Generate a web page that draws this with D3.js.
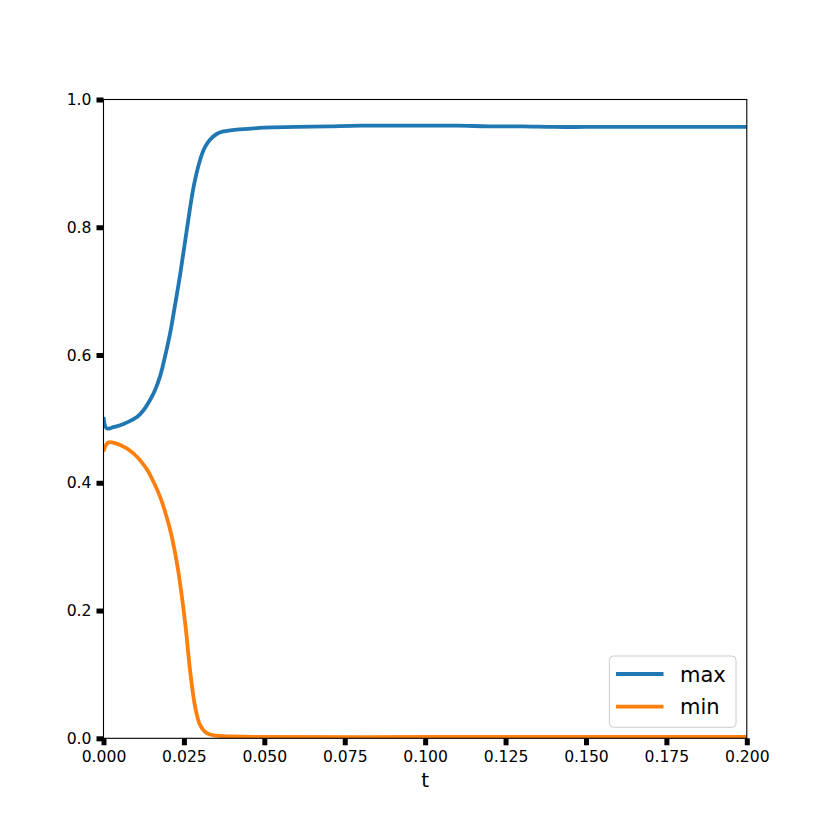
<!DOCTYPE html>
<html>
<head>
<meta charset="utf-8">
<script src="https://cdn.jsdelivr.net/npm/d3@7"></script>
<style>
  html, body { margin: 0; padding: 0; background: #fff; }
  svg { display: block; }
  text { font-family: "DejaVu Sans", sans-serif; fill: #000; }
</style>
</head>
<body>
<svg id="chart" width="830" height="830"></svg>
<script>
// ---- data ----
const maxT = [0, 0.001, 0.003, 0.0052, 0.0075, 0.0104, 0.0125, 0.0145, 0.016, 0.0176, 0.019, 0.0207, 0.0222, 0.0238, 0.0259, 0.028, 0.030, 0.0315, 0.0331, 0.0352, 0.0373, 0.0414, 0.045, 0.05, 0.06, 0.07, 0.08, 0.09, 0.10, 0.11, 0.12, 0.13, 0.14, 0.15, 0.16, 0.17, 0.18, 0.19, 0.2];
const maxV = [0.503, 0.485, 0.487, 0.490, 0.495, 0.503, 0.514, 0.530, 0.545, 0.567, 0.595, 0.634, 0.677, 0.725, 0.796, 0.863, 0.905, 0.925, 0.937, 0.946, 0.950, 0.953, 0.954, 0.956, 0.957, 0.958, 0.959, 0.959, 0.959, 0.959, 0.958, 0.958, 0.957, 0.957, 0.957, 0.957, 0.957, 0.957, 0.957];
const minT = [0, 0.0015, 0.0052, 0.0093, 0.0135, 0.0155, 0.0176, 0.019, 0.0207, 0.022, 0.0233, 0.0254, 0.0269, 0.0285, 0.030, 0.0321, 0.0352, 0.04, 0.05, 0.1, 0.15, 0.2];
const minV = [0.449, 0.463, 0.459, 0.446, 0.421, 0.402, 0.378, 0.357, 0.327, 0.297, 0.260, 0.180, 0.107, 0.049, 0.021, 0.008, 0.004, 0.003, 0.002, 0.002, 0.002, 0.002];
const seriesNames = ["max", "min"];
const seriesColors = ["#1f77b4", "#ff7f0e"];
const xTicks = [0, 0.025, 0.05, 0.075, 0.1, 0.125, 0.15, 0.175, 0.2];
const yTicks = [0, 0.2, 0.4, 0.6, 0.8, 1.0];
const xLabel = "t";

// ---- layout ----
const mLeft = 103.5, mRight = 746.8, mTop = 99.5, mBottom = 738.3;
const svg = d3.select("#chart");

const x = d3.scaleLinear().domain([0, 0.2]).range([mLeft, mRight]);
const y = d3.scaleLinear().domain([0, 1]).range([mBottom, mTop]);

svg.append("defs").append("clipPath").attr("id", "clip")
  .append("rect").attr("x", mLeft).attr("y", mTop)
  .attr("width", mRight - mLeft).attr("height", mBottom - mTop);

const series = [
  { name: seriesNames[0], color: seriesColors[0], pts: maxT.map((t, i) => [t, maxV[i]]) },
  { name: seriesNames[1], color: seriesColors[1], pts: minT.map((t, i) => [t, minV[i]]) }
];

const line = d3.line().x(d => x(d[0])).y(d => y(d[1])).curve(d3.curveCatmullRom.alpha(0.5));

svg.append("g").attr("clip-path", "url(#clip)")
  .selectAll("path").data(series).join("path")
  .attr("d", d => line(d.pts))
  .attr("fill", "none")
  .attr("stroke", d => d.color)
  .attr("stroke-width", 3.8)
  .attr("stroke-linejoin", "round")
  .attr("stroke-linecap", "butt");

// spines
svg.append("rect").attr("x", mLeft).attr("y", mTop)
  .attr("width", mRight - mLeft).attr("height", mBottom - mTop)
  .attr("fill", "none").attr("stroke", "#000").attr("stroke-width", 1.1);

// axes
const xAxis = d3.axisBottom(x).tickValues(xTicks).tickFormat(d3.format(".3f"))
  .tickSizeInner(7).tickSizeOuter(0).tickPadding(6);
const gx = svg.append("g").attr("transform", `translate(0,${mBottom})`).call(xAxis);
gx.select(".domain").remove();
gx.selectAll(".tick line").attr("stroke", "#000").attr("stroke-width", 5);
gx.selectAll(".tick text").attr("font-size", "15.6px").attr("font-family", "DejaVu Sans").attr("fill", "#000");

const yAxis = d3.axisLeft(y).tickValues(yTicks).tickFormat(d3.format(".1f"))
  .tickSizeInner(7).tickSizeOuter(0).tickPadding(5);
const gy = svg.append("g").attr("transform", `translate(${mLeft},0)`).call(yAxis);
gy.select(".domain").remove();
gy.selectAll(".tick line").attr("stroke", "#000").attr("stroke-width", 5);
gy.selectAll(".tick text").attr("font-size", "15.6px").attr("font-family", "DejaVu Sans").attr("fill", "#000");

// x label
svg.append("text").attr("x", (mLeft + mRight) / 2).attr("y", 787)
  .attr("text-anchor", "middle").attr("font-size", "20px").text(xLabel);

// legend
const lg = svg.append("g");
lg.append("rect").attr("x", 609.3).attr("y", 656).attr("width", 126.7).attr("height", 71.3)
  .attr("rx", 4).attr("fill", "#fff").attr("fill-opacity", 0.8)
  .attr("stroke", "#cccccc").attr("stroke-width", 1);
series.forEach((s, i) => {
  const yy = 674 + i * 32.7;
  lg.append("line").attr("x1", 616).attr("x2", 663.5).attr("y1", yy).attr("y2", yy)
    .attr("stroke", s.color).attr("stroke-width", 3.8);
  lg.append("text").attr("x", 680).attr("y", yy + 7.5)
    .attr("font-size", "21px").text(s.name);
});
</script>
</body>
</html>
